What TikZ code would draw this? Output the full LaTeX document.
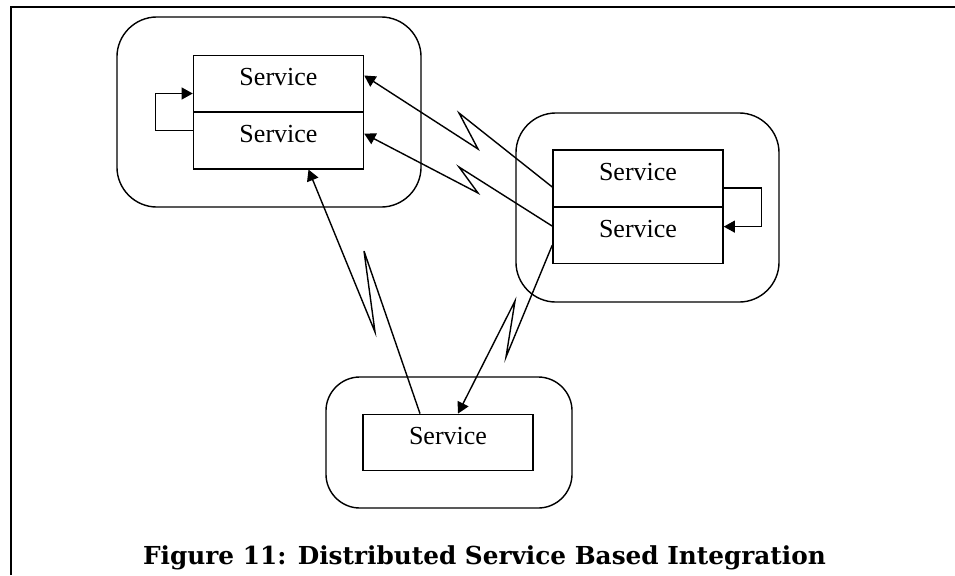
\documentclass[tikz,border=0pt]{standalone}
\usepackage{fontspec}
\setmainfont{Liberation Serif}
\newfontfamily\capfont{DejaVu Serif}
\usepackage{tikz}
\usetikzlibrary{calc,positioning,arrows.meta}

\begin{document}
\begin{tikzpicture}[x=0.025cm, y=-0.025cm, line width=1pt,
	svc/.style={draw, minimum width=4.25cm, minimum height=1.41cm, inner sep=0pt,
		text height=14pt, text depth=11pt, font=\fontsize{18.5}{20}\selectfont},
	grp/.style={draw, rounded corners=1cm, inner sep=0pt},
	arr/.style={-{Triangle[length=0.28cm, width=0.3cm]}}]
					\useasboundingbox (0,0) rectangle (955,575);
					\draw [line width=1.7pt] (11,575) -- (11,7) -- (955,7);
					
					% the three sites
					\node[grp, minimum width=7.6cm, minimum height=4.75cm] (g1) at (269,112) {};
					\node[grp, minimum width=6.575cm, minimum height=4.725cm] (g2) at (647.5,207.5) {};
					\node[grp, minimum width=6.15cm, minimum height=3.275cm, rounded corners=0.85cm] (g3) at (449,442.5) {};
					
					\node[svc] (a1) at (278.5,83.5) {Service};
					\node[svc, below=-0.5pt of a1] (a2) {Service};
					\node[svc] (r1) at (638,178) {Service};
					\node[svc, below=-0.5pt of r1] (r2) {Service};
					\node[svc] (b1) at (448,442.5) {Service};
					
					% remote links
					\draw [arr] ($(r1.west)+(0,9)$) -- (459,113) -- (478,149) -- ($(a1.east)+(0,-8)$);
					\draw [arr] ($(r2.west)+(0,-9)$) -- (459,167) -- (478,193) -- ($(a2.east)+(0,-7)$);
					\draw [arr] ($(b1.north)+(-28,0)$) -- (364,251) -- (375,332) -- ($(a2.south)+(30,0)$);
					\draw [arr] ($(r2.west)+(0,10)$) -- (506,357) -- (515,301) -- ($(b1.north)+(10,0)$);
					
					% local links
					\draw [arr] ($(a2.west)+(0,-10)$) -- ++(-37,0) |- ($(a1.west)+(0,10)$);
					\draw [arr] ($(r1.east)+(0,10)$) -- ++(38,0) |- ($(r2.east)+(0,-8.5)$);
					
					\node[font=\capfont\bfseries\fontsize{17.6}{20}\selectfont, anchor=base] (cap) at (484.5,564) {Figure 11: Distributed Service Based Integration};
				\end{tikzpicture}
\end{document}
